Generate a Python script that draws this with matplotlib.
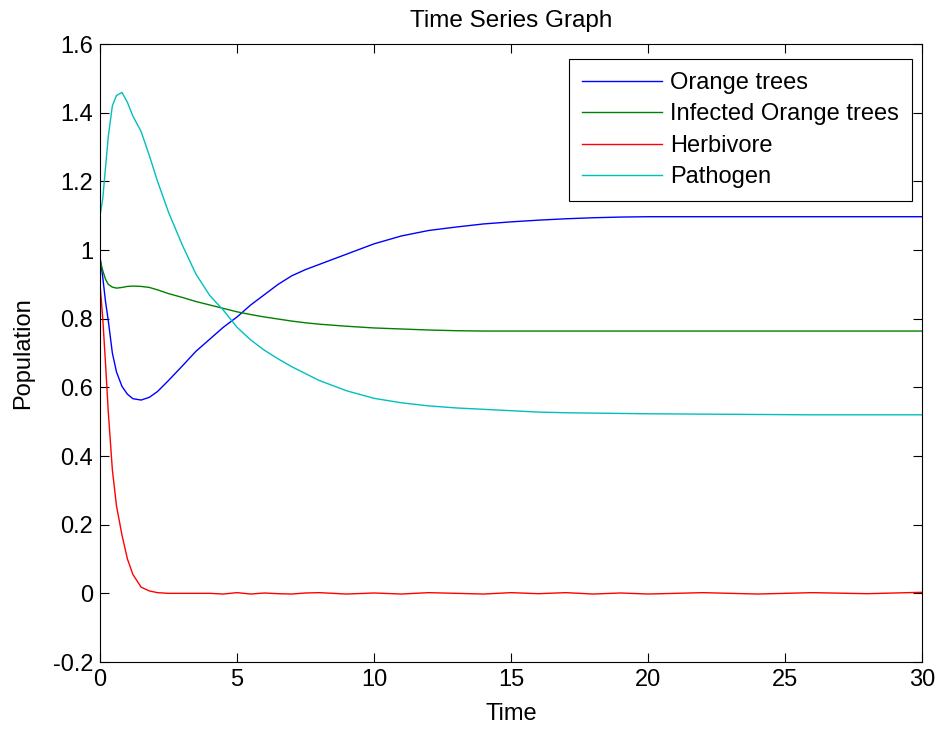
import matplotlib
matplotlib.use("Agg")
import matplotlib.pyplot as plt

# data (shared time grid)
time = [0, 0.1, 0.2, 0.3, 0.45, 0.6, 0.8, 1.0, 1.2, 1.5, 1.8, 2.1, 2.5, 3.0, 3.5,
        4.0, 4.5, 5.0, 5.5, 6.0, 6.5, 7.0, 7.5, 8.0, 9.0, 10, 11, 12, 13, 14, 15,
        16, 17, 18, 19, 20, 22, 24, 26, 28, 30]

orange_trees = [0.98, 0.92, 0.85, 0.795, 0.70, 0.645, 0.603, 0.58, 0.567, 0.563,
                0.571, 0.588, 0.62, 0.662, 0.705, 0.74, 0.775, 0.805, 0.84, 0.87,
                0.90, 0.925, 0.943, 0.958, 0.988, 1.018, 1.041, 1.057, 1.067, 1.076,
                1.082, 1.087, 1.091, 1.094, 1.096, 1.097, 1.097, 1.097, 1.097, 1.097,
                1.097]

infected_trees = [0.97, 0.94, 0.915, 0.90, 0.892, 0.889, 0.891, 0.894, 0.895, 0.894,
                  0.891, 0.884, 0.873, 0.862, 0.85, 0.84, 0.83, 0.82, 0.812, 0.805,
                  0.799, 0.793, 0.788, 0.784, 0.778, 0.773, 0.77, 0.767, 0.765, 0.764,
                  0.764, 0.764, 0.764, 0.764, 0.764, 0.764, 0.764, 0.764, 0.764, 0.764,
                  0.764]

herbivore = [0.9, 0.8, 0.67, 0.53, 0.36, 0.255, 0.17, 0.10, 0.055, 0.018,
             0.007, 0.002, 0.0, 0.0, 0.0, 0.0, -0.002, 0.002, -0.002, 0.001,
             -0.001, -0.002, 0.001, 0.002, -0.002, 0.001, -0.002, 0.002, 0.0, -0.002,
             0.002, -0.001, 0.002, -0.002, 0.001, -0.002, 0.002, -0.002, 0.002, -0.001,
             0.003]

pathogen = [1.10, 1.15, 1.24, 1.33, 1.42, 1.45, 1.459, 1.43, 1.39, 1.345,
            1.275, 1.20, 1.11, 1.015, 0.93, 0.868, 0.825, 0.775, 0.738, 0.708,
            0.683, 0.66, 0.64, 0.62, 0.59, 0.568, 0.555, 0.546, 0.54, 0.536,
            0.532, 0.528, 0.526, 0.525, 0.524, 0.523, 0.522, 0.521, 0.52, 0.52,
            0.52]

labels = ["Orange trees", "Infected Orange trees", "Herbivore", "Pathogen"]
colors = ["#0000ff", "#008000", "#ff0000", "#00bfbf"]

plt.rcParams["font.family"] = ["Liberation Sans", "DejaVu Sans"]
plt.rcParams["font.size"] = 17

fig = plt.figure(figsize=(9.41, 7.29), dpi=100)
ax = fig.add_axes([0.1063, 0.0919, 0.8735, 0.8477])

for series, lab, col in zip([orange_trees, infected_trees, herbivore, pathogen], labels, colors):
    ax.plot(time, series, color=col, linewidth=1.0, label=lab)

ax.set_xlim(0, 30)
ax.set_ylim(-0.2, 1.6)
ax.set_xticks([0, 5, 10, 15, 20, 25, 30])
ax.set_yticks([-0.2, 0, 0.2, 0.4, 0.6, 0.8, 1, 1.2, 1.4, 1.6])
ax.set_yticklabels(["-0.2", "0", "0.2", "0.4", "0.6", "0.8", "1", "1.2", "1.4", "1.6"])
ax.tick_params(direction="in", length=6.5, width=0.8, top=True, right=True, pad=5)
for s in ax.spines.values():
    s.set_linewidth(0.8)

ax.set_xlabel("Time", labelpad=9)
ax.set_ylabel("Population", labelpad=13)
ax.set_title("Time Series Graph", pad=12, fontsize=17.5)

leg = ax.legend(loc="upper right", bbox_to_anchor=(0.988, 0.9757), fancybox=False,
                edgecolor="black", framealpha=1, handlelength=3.4, handletextpad=0.35,
                labelspacing=0.4, borderpad=0.55, borderaxespad=0)
leg.get_frame().set_linewidth(0.8)

fig.savefig("out.png", dpi=100)
